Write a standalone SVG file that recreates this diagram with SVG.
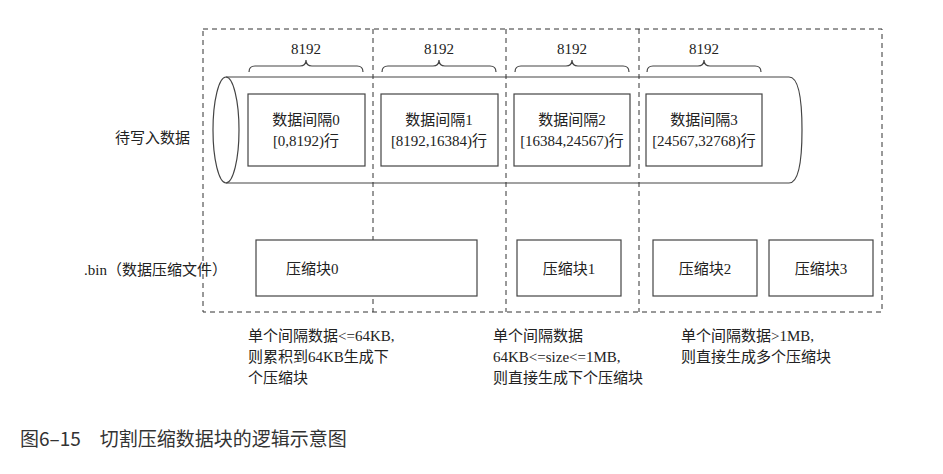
<svg xmlns="http://www.w3.org/2000/svg" width="943" height="474" viewBox="0 0 943 474">
<style>
.s{font-family:"Liberation Serif","Noto Sans CJK SC",serif;font-size:15px;fill:#222}
.b{fill:#fff;stroke:#444;stroke-width:1.2}
.d{fill:none;stroke:#333;stroke-width:1;stroke-dasharray:5,4}
.br{fill:none;stroke:#444;stroke-width:1.2}
</style>
<rect width="943" height="474" fill="#fff"/>
<g id="frame">
<rect class="d" x="203" y="29" width="679" height="283"/>
</g>
<g id="cylinder">
<path class="br" d="M226,77 H789 Q802,77 802,130 Q802,183 789,183 H226"/>
<ellipse class="br" cx="226" cy="130" rx="13" ry="53" fill="#fff"/>
</g>
<g id="dividers">
<line class="d" x1="373" y1="29" x2="373" y2="312"/>
<line class="d" x1="506" y1="29" x2="506" y2="312"/>
<line class="d" x1="639" y1="29" x2="639" y2="312"/>
</g>
<g id="braces">
<path class="br" d="M249,72 Q249,66 255,66 H300 Q306,66 306,60 Q306,66 312,66 H357 Q363,66 363,72"/>
<path class="br" d="M382,72 Q382,66 388,66 H433 Q439,66 439,60 Q439,66 445,66 H490 Q496,66 496,72"/>
<path class="br" d="M515,72 Q515,66 521,66 H566 Q572,66 572,60 Q572,66 578,66 H623 Q629,66 629,72"/>
<path class="br" d="M647,72 Q647,66 653,66 H698 Q704,66 704,60 Q704,66 710,66 H755 Q761,66 761,72"/>
<text class="s" x="306" y="54" text-anchor="middle" font-size="18">8192</text>
<text class="s" x="439" y="54" text-anchor="middle" font-size="18">8192</text>
<text class="s" x="572" y="54" text-anchor="middle" font-size="18">8192</text>
<text class="s" x="704" y="54" text-anchor="middle" font-size="18">8192</text>
</g>
<g id="interval0"><rect class="b" x="248" y="94" width="117" height="72"/><text class="s" x="306" y="125" text-anchor="middle">数据间隔0</text><text class="s" x="306" y="146" text-anchor="middle">[0,8192)行</text></g>
<g id="interval1"><rect class="b" x="381" y="94" width="117" height="72"/><text class="s" x="439" y="125" text-anchor="middle">数据间隔1</text><text class="s" x="439" y="146" text-anchor="middle">[8192,16384)行</text></g>
<g id="interval2"><rect class="b" x="514" y="94" width="116" height="72"/><text class="s" x="572" y="125" text-anchor="middle">数据间隔2</text><text class="s" x="572" y="146" text-anchor="middle">[16384,24567)行</text></g>
<g id="interval3"><rect class="b" x="646" y="94" width="116" height="72"/><text class="s" x="704" y="125" text-anchor="middle">数据间隔3</text><text class="s" x="704" y="146" text-anchor="middle">[24567,32768)行</text></g>
<g id="block0"><rect class="b" x="256" y="240" width="221" height="56"/><text class="s" x="286" y="274">压缩块0</text></g>
<g id="block1"><rect class="b" x="517" y="240" width="104" height="56"/><text class="s" x="569" y="274" text-anchor="middle">压缩块1</text></g>
<g id="block2"><rect class="b" x="653" y="240" width="104" height="56"/><text class="s" x="705" y="274" text-anchor="middle">压缩块2</text></g>
<g id="block3"><rect class="b" x="769" y="240" width="104" height="56"/><text class="s" x="821" y="274" text-anchor="middle">压缩块3</text></g>
<g id="labels">
<text class="s" x="115" y="143" font-size="17">待写入数据</text>
<text class="s" x="84" y="275" font-size="16">.bin（数据压缩文件）</text>
<text class="s" x="248" y="341" font-size="16">单个间隔数据&lt;=64KB,</text>
<text class="s" x="248" y="362" font-size="16">则累积到64KB生成下</text>
<text class="s" x="248" y="383" font-size="16">个压缩块</text>
<text class="s" x="493" y="341" font-size="16">单个间隔数据</text>
<text class="s" x="493" y="362" font-size="16">64KB&lt;=size&lt;=1MB,</text>
<text class="s" x="493" y="383" font-size="16">则直接生成下个压缩块</text>
<text class="s" x="681" y="341" font-size="16">单个间隔数据&gt;1MB,</text>
<text class="s" x="681" y="362" font-size="16">则直接生成多个压缩块</text>
<text x="20" y="446" font-family="'Noto Sans CJK SC','Noto Sans',sans-serif" font-size="19" fill="#333">图6–15　切割压缩数据块的逻辑示意图</text>
</g>
</svg>
